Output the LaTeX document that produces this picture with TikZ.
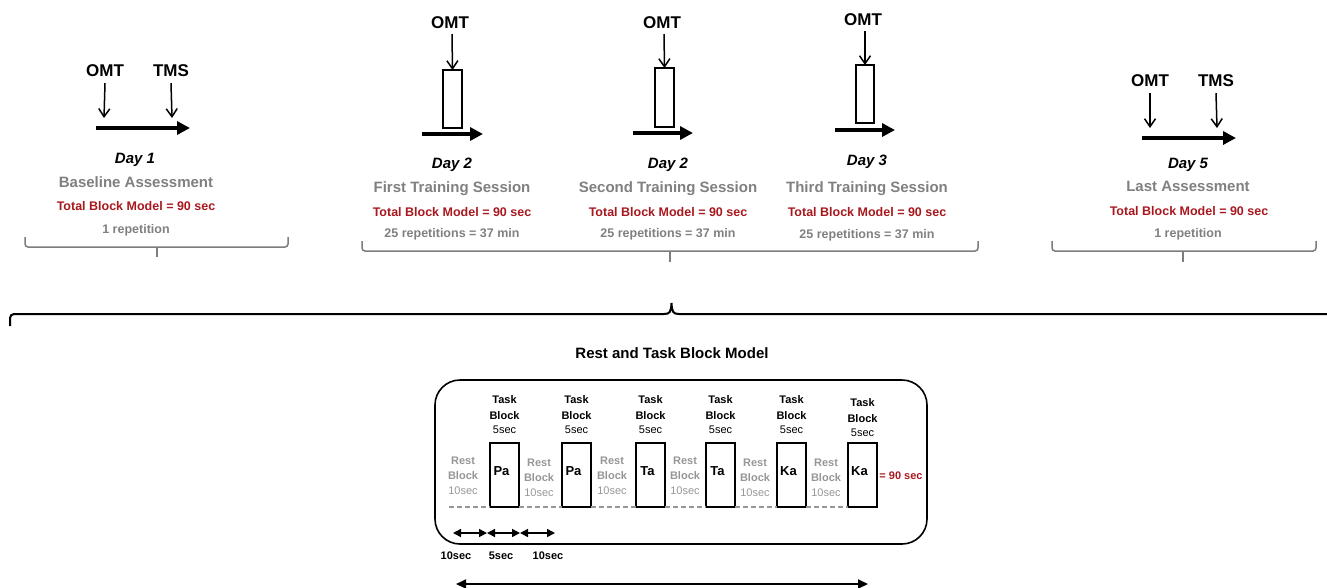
\documentclass[tikz,border=0pt]{standalone}
\usepackage{fontspec}
\setmainfont{Liberation Sans}
\usetikzlibrary{arrows.meta}
\definecolor{dred}{RGB}{168,24,30}
\definecolor{tgray}{RGB}{128,128,128}
\definecolor{lgray}{RGB}{150,150,150}
\definecolor{bgray}{RGB}{125,125,125}
\begin{document}
\begin{tikzpicture}[x=1pt,y=-1pt,
  every node/.style={inner sep=0pt,outer sep=0pt},
  big/.style={font=\fontsize{17}{20}\selectfont\bfseries,anchor=base},
  day/.style={font=\fontsize{15}{18}\selectfont\bfseries\itshape,anchor=base},
  sess/.style={font=\fontsize{15}{18}\selectfont\bfseries,text=tgray,anchor=base},
  tot/.style={font=\fontsize{12.5}{15}\selectfont\bfseries,text=dred,anchor=base},
  rep/.style={font=\fontsize{12.5}{15}\selectfont\bfseries,text=tgray,anchor=base},
  thinarrow/.style={line width=1.5pt,-{Straight Barb[length=8pt,width=11pt]}},
  thickarrow/.style={line width=4pt,-{Triangle[length=13pt,width=13pt]}},
  sessbox/.style={draw,line width=1.5pt,minimum width=19pt,minimum height=58pt},
  bracket/.style={draw=bgray,line width=1.5pt,rounded corners=3pt},
  tasklab/.style={font=\fontsize{11}{13}\selectfont\bfseries,anchor=base},
  tasksec/.style={font=\fontsize{11}{13}\selectfont,anchor=base},
  restlab/.style={font=\fontsize{11}{13}\selectfont\bfseries,text=lgray,anchor=base},
  restsec/.style={font=\fontsize{11}{13}\selectfont,text=lgray,anchor=base},
  taskbox/.style={draw,line width=1.8pt,minimum width=29pt,minimum height=64pt},
  syl/.style={font=\fontsize{13}{15}\selectfont\bfseries,anchor=base},
  dashline/.style={draw=lgray,line width=1.3pt,dash pattern=on 5pt off 3pt},
  dimarrow/.style={line width=1.5pt,{Triangle[length=8pt,width=8pt]}-{Triangle[length=8pt,width=8pt]}},
  longarrow/.style={line width=1.8pt,{Triangle[length=10pt,width=9pt]}-{Triangle[length=10pt,width=9pt]}},
  dimlab/.style={font=\fontsize{11}{13}\selectfont\bfseries,anchor=base}
]
\useasboundingbox (0,0) rectangle (1327,587);

% ---------- Day 1 ----------
\node[big] (o1) at (105,76) {OMT};
\node[big] (s1) at (171,76) {TMS};
\coordinate (o1e) at (104,118);
\coordinate (s1e) at (172,118);
\draw[thinarrow] ([yshift=-7pt]o1.south) -- (o1e);
\draw[thinarrow] ([yshift=-7pt]s1.south) -- (s1e);
\coordinate (a1s) at (96,128); \coordinate (a1e) at (190,128);
\draw[thickarrow] (a1s) -- (a1e);
\node[day] (d1) at (135,163.5) {Day 1};
\node[sess] (n1) at (136,187.5) {Baseline Assessment};
\node[tot] (t1) at (136,210.5) {Total Block Model = 90 sec};
\node[rep] (r1) at (136,233) {1 repetition};
\draw[bracket] (25,237) -- (25,247) -- (288,247) -- (288,237);
\draw[bracket] (157,247) -- (157,257);

% ---------- Training sessions ----------
\node[big] (o2) at (450,28) {OMT};
\node[sessbox] (b2) at (452.5,99) {};
\draw[thinarrow] ([xshift=2pt,yshift=-6pt]o2.south) -- (b2.north);
\coordinate (a2s) at (422,134); \coordinate (a2e) at (483,134);
\draw[thickarrow] (a2s) -- (a2e);
\node[day] (d2) at (452,168.5) {Day 2};
\node[sess] (n2) at (452,192.5) {First Training Session};
\node[tot] (t2) at (452,216.5) {Total Block Model = 90 sec};
\node[rep] (r2) at (452,237.5) {25 repetitions = 37 min};

\node[big] (o3) at (662,28) {OMT};
\node[sessbox,minimum height=59pt] (b3) at (664.5,97.5) {};
\draw[thinarrow] ([xshift=2pt,yshift=-6pt]o3.south) -- (b3.north);
\coordinate (a3s) at (633,133); \coordinate (a3e) at (693,133);
\draw[thickarrow] (a3s) -- (a3e);
\node[day] (d3) at (668,168.5) {Day 2};
\node[sess] (n3) at (668,192.5) {Second Training Session};
\node[tot] (t3) at (668,216.5) {Total Block Model = 90 sec};
\node[rep] (r3) at (668,237.5) {25 repetitions = 37 min};

\node[big] (o4) at (863,25) {OMT};
\node[sessbox,minimum width=18pt] (b4) at (865,94) {};
\draw[thinarrow] ([xshift=2pt,yshift=-6pt]o4.south) -- (b4.north);
\coordinate (a4s) at (835,130); \coordinate (a4e) at (895,130);
\draw[thickarrow] (a4s) -- (a4e);
\node[day] (d4) at (867,165.5) {Day 3};
\node[sess] (n4) at (867,192.5) {Third Training Session};
\node[tot] (t4) at (867,216.5) {Total Block Model = 90 sec};
\node[rep] (r4) at (867,238.5) {25 repetitions = 37 min};

\draw[bracket] (362,241) -- (362,251) -- (978,251) -- (978,241);
\draw[bracket] (670,251) -- (670,262);

% ---------- Day 5 ----------
\node[big] (o5) at (1150,86) {OMT};
\node[big] (s5) at (1216,86) {TMS};
\coordinate (o5e) at (1150,128);
\coordinate (s5e) at (1217,128);
\draw[thinarrow] ([yshift=-7pt]o5.south) -- (o5e);
\draw[thinarrow] ([yshift=-7pt]s5.south) -- (s5e);
\coordinate (a5s) at (1142,138); \coordinate (a5e) at (1236,138);
\draw[thickarrow] (a5s) -- (a5e);
\node[day] (d5) at (1188,168.5) {Day 5};
\node[sess] (n5) at (1188,191.5) {Last Assessment};
\node[tot] (t5) at (1189,215.5) {Total Block Model = 90 sec};
\node[rep] (r5) at (1188,237) {1 repetition};
\draw[bracket] (1052,241) -- (1052,251) -- (1316,251) -- (1316,241);
\draw[bracket] (1183,251) -- (1183,262);

% ---------- big brace ----------
\draw[line width=2pt] (10,326) [rounded corners=4pt] -- (10,314) [sharp corners] -- (664,314)
  .. controls (670,314) and (671,312) .. (671.5,303)
  .. controls (672,312) and (673,314) .. (679,314) -- (1335,314);

\node[font=\fontsize{15}{18}\selectfont\bfseries,anchor=base] (title) at (672,358) {Rest and Task Block Model};

% ---------- block model ----------
\node[draw,line width=1.6pt,rounded corners=25pt,minimum width=492pt,minimum height=164pt] (bm) at (681,462) {};

\foreach \i/\cx/\s/\dy in {1/504.5/Pa/0,2/576.5/Pa/0,3/650.5/Ta/0,4/720.5/Ta/0,5/791.5/Ka/0,6/862.5/Ka/3} {
  \node[taskbox] (tb\i) at (\cx,475) {};
  \node[syl] (sy\i) at (\cx-3,475) {\s};
  \node[tasklab] (tt\i) at (\cx,403+\dy) {Task};
  \node[tasklab] (tk\i) at (\cx,419+\dy) {Block};
  \node[tasksec] (ts\i) at (\cx,433+\dy) {5sec};
}
\foreach \i/\cx/\dy in {1/463/0,2/539/2,3/612/0,4/685/0,5/755/2,6/826/2} {
  \node[restlab] (rr\i) at (\cx,464+\dy) {Rest};
  \node[restlab] (rb\i) at (\cx,479+\dy) {Block};
  \node[restsec] (rs\i) at (\cx,494+\dy) {10sec};
}
\coordinate (ds0) at (449,507);
\draw[dashline] (ds0) -- (tb1.south west);
\draw[dashline] (tb1.south east) -- (tb2.south west);
\draw[dashline] (tb2.south east) -- (tb3.south west);
\draw[dashline] (tb3.south east) -- (tb4.south west);
\draw[dashline] (tb4.south east) -- (tb5.south west);
\draw[dashline] (tb5.south east) -- (tb6.south west);

\node[font=\fontsize{11}{13}\selectfont\bfseries,text=dred,anchor=base] (eq) at (901,479) {= 90 sec};

\coordinate (m0) at (453,533); \coordinate (m1) at (487,533);
\coordinate (m2) at (520,533); \coordinate (m3) at (555,533);
\draw[dimarrow] (m0) -- (m1);
\draw[dimarrow] (m1) -- (m2);
\draw[dimarrow] (m2) -- (m3);
\node[dimlab] (l1) at (456,559) {10sec};
\node[dimlab] (l2) at (501,559) {5sec};
\node[dimlab] (l3) at (548,559) {10sec};

\coordinate (la) at (456,584); \coordinate (lb) at (868,584);
\draw[longarrow] (la) -- (lb);
\end{tikzpicture}
\end{document}
